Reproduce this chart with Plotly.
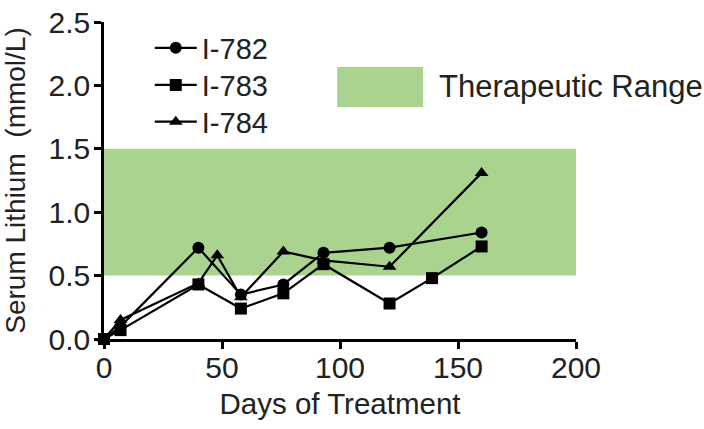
import plotly.graph_objects as go

# ---- data ----
days_782 = [0, 7, 40, 58, 76, 93, 121, 160]
li_782 = [0.0, 0.10, 0.72, 0.35, 0.43, 0.68, 0.72, 0.84]

days_783 = [0, 7, 40, 58, 76, 93, 121, 139, 160]
li_783 = [0.0, 0.07, 0.43, 0.24, 0.36, 0.59, 0.28, 0.48, 0.73]

days_784 = [0, 7, 40, 48, 58, 76, 93, 121, 160]
li_784 = [0.0, 0.15, 0.44, 0.66, 0.33, 0.69, 0.62, 0.57, 1.31]

range_days = [0, 200]
range_low = 0.5
range_high = 1.5

x_ticks = [0, 50, 100, 150, 200]
y_ticks = [0.0, 0.5, 1.0, 1.5, 2.0, 2.5]
y_tick_labels = ["0.0", "0.5", "1.0", "1.5", "2.0", "2.5"]

FONT = "Liberation Sans, Arial, sans-serif"
GREEN = "#a9d38e"
TXT = "#222222"

fig = go.Figure()

# therapeutic range band (drawn through data axes)
fig.add_trace(go.Scatter(
    x=[range_days[0], range_days[1], range_days[1], range_days[0], range_days[0]],
    y=[range_low, range_low, range_high, range_high, range_low],
    fill="toself", fillcolor=GREEN, line=dict(width=0),
    mode="lines", showlegend=False, hoverinfo="skip"))

series = [
    ("I-782", days_782, li_782, "circle", "legend"),
    ("I-783", days_783, li_783, "square", "legend2"),
    ("I-784", days_784, li_784, "triangle-up", "legend3"),
]
for name, xs, ys, sym, lg in series:
    fig.add_trace(go.Scatter(
        x=xs, y=ys, name=name, mode="lines+markers",
        line=dict(color="black", width=2.2),
        marker=dict(symbol=sym, size=12, color="black"),
        cliponaxis=False, legend=lg))

# legend swatch for the therapeutic range
fig.add_shape(type="rect", xref="paper", yref="paper",
              x0=0.494, x1=0.676, y0=0.732, y1=0.858,
              fillcolor=GREEN, line=dict(width=0), layer="below")
fig.add_annotation(xref="paper", yref="paper", x=0.706, y=0.795,
                   xanchor="left", yanchor="middle", showarrow=False,
                   text="Therapeutic Range",
                   font=dict(family=FONT, size=31, color=TXT))

axis_common = dict(
    showline=True, linecolor="black", linewidth=2.5,
    ticks="outside", ticklen=7, tickwidth=2.5, tickcolor="black",
    showgrid=False, zeroline=False, automargin=False,
    tickfont=dict(family=FONT, size=30, color=TXT),
)

legend_common = dict(x=0.097, xanchor="left", yanchor="middle",
                     bgcolor="rgba(0,0,0,0)", itemwidth=42,
                     font=dict(family=FONT, size=29, color=TXT))

fig.update_layout(
    width=704, height=429,
    margin=dict(l=104, r=128, t=22, b=90),
    paper_bgcolor="white", plot_bgcolor="white",
    xaxis=dict(range=[0, 200], tickvals=x_ticks, ticklabelstandoff=-7,
               title=dict(text="Days of Treatment", standoff=11,
                          font=dict(family=FONT, size=29.5, color=TXT)),
               **axis_common),
    yaxis=dict(range=[0, 2.5], tickvals=y_ticks, ticktext=y_tick_labels,
               ticklabelstandoff=-2,
               title=dict(text="Serum Lithium\u00a0\u00a0(mmol/L)", standoff=15,
                          font=dict(family=FONT, size=28, color=TXT)),
               **axis_common),
    legend=dict(y=0.918, **legend_common),
    legend2=dict(y=0.801, **legend_common),
    legend3=dict(y=0.685, **legend_common),
    showlegend=True,
)

fig.write_html("out.html", config={"displayModeBar": False},
               post_script="document.body.style.margin='0';document.body.style.overflow='hidden';")
